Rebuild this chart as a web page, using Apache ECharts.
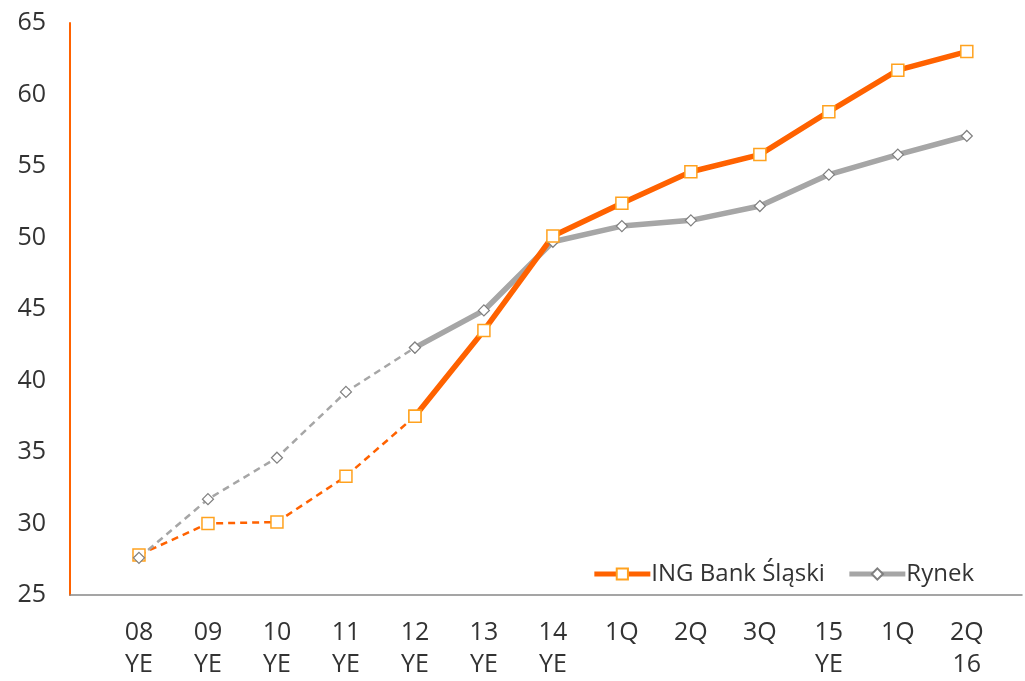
<!DOCTYPE html>
<html>
<head>
<meta charset="utf-8">
<script src="https://cdn.jsdelivr.net/npm/echarts@6/dist/echarts.min.js"></script>
<style>
  html, body { margin: 0; padding: 0; background: #fff; }
  #chart { width: 1025px; height: 681px; }
</style>
</head>
<body>
<div id="chart"></div>
<script>
// kategorie na osi X
var categories = ['08\nYE', '09\nYE', '10\nYE', '11\nYE', '12\nYE', '13\nYE', '14\nYE',
  '1Q', '2Q', '3Q', '15\nYE', '1Q', '2Q\n16'];
// wartości
var ingValues = [27.8, 30.0, 30.1, 33.3, 37.5, 43.5, 50.1, 52.4, 54.6, 55.8, 58.8, 61.7, 63.0];
var rynekValues = [27.6, 31.7, 34.6, 39.2, 42.3, 44.9, 49.7, 50.8, 51.2, 52.2, 54.4, 55.8, 57.1];
var splitIndex = 4; // do tego punktu linia przerywana

function toPoints(values, from, to) {
  var out = [];
  for (var i = from; i <= to; i++) out.push([i, values[i]]);
  return out;
}

var last = categories.length - 1;
var font = "'Open Sans', sans-serif";
var orange = '#FF6200';
var gray = '#A6A6A6';

var chart = echarts.init(document.getElementById('chart'));
chart.setOption({
  animation: false,
  textStyle: { fontFamily: font },
  grid: { left: 70, right: 3, top: 23, bottom: 82, containLabel: false },
  legend: {
    data: ['ING Bank Śląski', 'Rynek'],
    right: 46,
    top: 557,
    itemWidth: 56,
    itemHeight: 14,
    itemGap: 22,
    lineStyle: { width: 5 },
    textStyle: { fontSize: 24, color: '#333', fontFamily: font, padding: [0, 0, 0, -4] }
  },
  xAxis: {
    type: 'value',
    min: -1,
    max: 12.8,
    interval: 1,
    splitLine: { show: false },
    axisTick: { show: false },
    axisLine: { show: true, onZero: false, lineStyle: { color: '#888', width: 1.5 } },
    axisLabel: {
      fontSize: 25,
      color: '#333',
      lineHeight: 32,
      margin: 22,
      showMaxLabel: false,
      formatter: function (v) {
        return categories[v] !== undefined ? categories[v] : '';
      }
    }
  },
  yAxis: {
    type: 'value',
    min: 25,
    max: 65,
    interval: 5,
    splitLine: { show: false },
    axisTick: { show: false },
    axisLine: { show: true, onZero: false, lineStyle: { color: orange, width: 2 } },
    axisLabel: { fontSize: 25, color: '#333', margin: 24 }
  },
  series: [
    {
      name: 'ING Bank Śląski (szac.)',
      type: 'line',
      data: toPoints(ingValues, 0, splitIndex),
      symbol: 'rect',
      symbolSize: 12,
      lineStyle: { color: orange, width: 2.5, type: [7, 5] },
      itemStyle: { color: '#fff', borderColor: '#FFA21F', borderWidth: 1.5 }
    },
    {
      name: 'Rynek (szac.)',
      type: 'line',
      data: toPoints(rynekValues, 0, splitIndex),
      symbol: 'diamond',
      symbolSize: 11,
      lineStyle: { color: gray, width: 2.5, type: [7, 5] },
      itemStyle: { color: '#fff', borderColor: '#7F7F7F', borderWidth: 1.2 }
    },
    {
      name: 'Rynek',
      type: 'line',
      data: toPoints(rynekValues, splitIndex, last),
      symbol: 'diamond',
      symbolSize: 11,
      lineStyle: { color: gray, width: 5.5 },
      itemStyle: { color: '#fff', borderColor: '#7F7F7F', borderWidth: 1.2 }
    },
    {
      name: 'ING Bank Śląski',
      type: 'line',
      data: toPoints(ingValues, splitIndex, last),
      symbol: 'rect',
      symbolSize: 12,
      lineStyle: { color: orange, width: 5.5 },
      itemStyle: { color: '#fff', borderColor: '#FFA21F', borderWidth: 1.5 }
    }
  ]
});
</script>
</body>
</html>
